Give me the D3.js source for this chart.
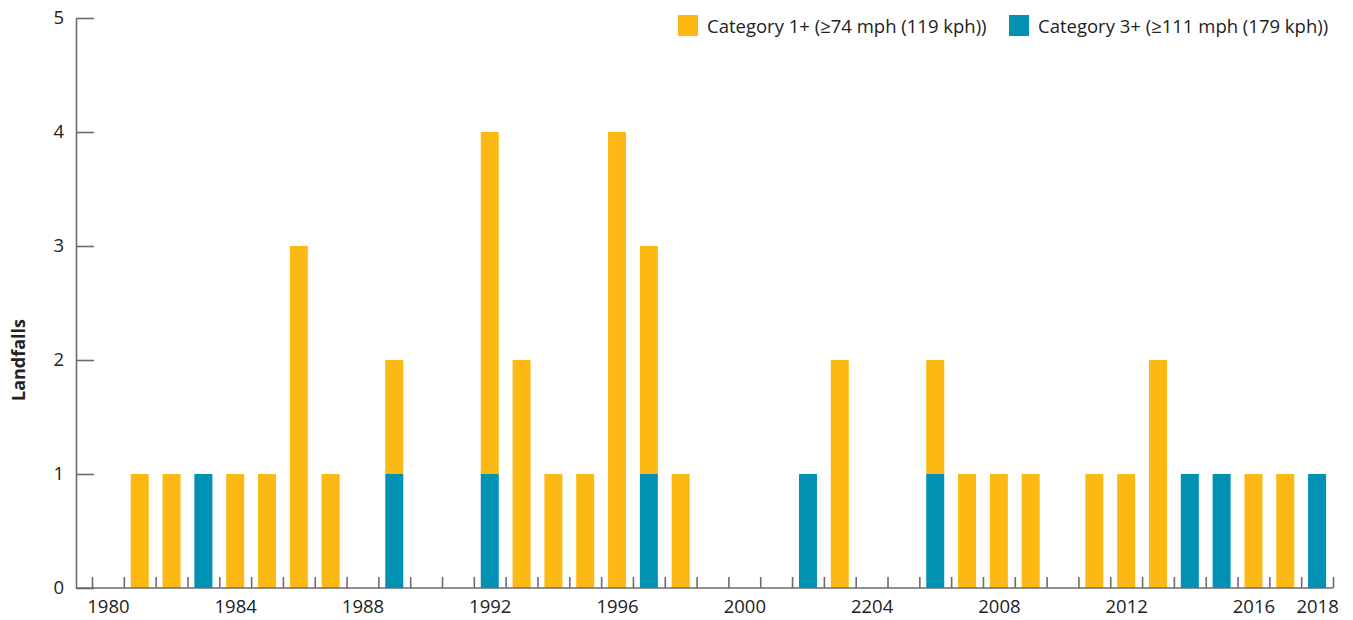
<!DOCTYPE html>
<html>
<head>
<meta charset="utf-8">
<script src="https://cdn.jsdelivr.net/npm/d3@7"></script>
<style>
  body { margin: 0; background: #fff; }
  svg text { font-family: "Open Sans", sans-serif; fill: #222; }
</style>
</head>
<body>
<script>
// data
var years = d3.range(1980, 2019);
// hurricanes that reached Cat 3+ (blue, bottom of stack)
var cat3 = [0,0,0,1,0,0,0,0,0,1, 0,0,1,0,0,0,0,1,0,0, 0,0,1,0,0,0,1,0,0,0, 0,0,0,0,1,1,0,0,1];
// remaining Cat 1+ landfalls (yellow, on top)
var cat1 = [0,1,1,0,1,1,3,1,0,1, 0,0,3,2,1,1,4,2,1,0, 0,0,0,2,0,0,1,1,1,1, 0,1,1,2,0,0,1,1,0];
var labelYears = [1980, 1984, 1988, 1992, 1996, 2000, 2004, 2008, 2012, 2016, 2018];
var labelText = ["1980", "1984", "1988", "1992", "1996", "2000", "2204", "2008", "2012", "2016", "2018"];
var yTicks = [0, 1, 2, 3, 4, 5];
var legendLabels = ["Category 1+ (\u226574 mph (119 kph))", "Category 3+ (\u2265111 mph (179 kph))"];
var colors = { cat1: "#fdb913", cat3: "#0091b3" };

var W = 1353, H = 620;
var mLeft = 76, mTop = 18, mBottom = 588;

var svg = d3.select("body").append("svg")
  .attr("width", W)
  .attr("height", H);

var rows = years.map(function (yr, i) {
  return { year: yr, cat3: cat3[i], cat1: cat1[i] };
});

// x: year centred in its slot, slots separated by ticks
var x = d3.scaleLinear()
  .domain([1979.5, 2018.5])
  .range([92, 1333]);

var y = d3.scaleLinear()
  .domain([0, 5])
  .range([mBottom, mTop]);

var stack = d3.stack().keys(["cat3", "cat1"]);
var series = stack(rows);

var barW = 18;

svg.append("g")
  .selectAll("g")
  .data(series)
  .enter()
  .append("g")
  .attr("fill", function (d) { return colors[d.key]; })
  .selectAll("rect")
  .data(function (d) { return d.filter(function (p) { return p[1] > p[0]; }); })
  .enter()
  .append("rect")
  .attr("x", function (d) { return x(d.data.year) - barW / 2; })
  .attr("y", function (d) { return y(d[1]); })
  .attr("width", barW)
  .attr("height", function (d) { return y(d[0]) - y(d[1]); });

// x axis: baseline + slot ticks pointing up
var xTickAxis = svg.append("g")
  .attr("transform", "translate(0," + mBottom + ")")
  .call(d3.axisBottom(x)
    .tickValues(d3.range(1979.5, 2019, 1))
    .tickSize(-11)
    .tickSizeOuter(0)
    .tickFormat(""));
xTickAxis.select(".domain").attr("d", "M" + mLeft + ",0H" + x(2018.5));

var xLabelAxis = svg.append("g")
  .attr("transform", "translate(0," + mBottom + ")")
  .call(d3.axisBottom(x)
    .tickValues(labelYears)
    .tickSize(0)
    .tickPadding(12)
    .tickFormat(function (d, i) { return labelText[i]; }));
xLabelAxis.select(".domain").remove();

// y axis with inward ticks
var yAxis = svg.append("g")
  .attr("transform", "translate(" + mLeft + ",0)")
  .call(d3.axisRight(y)
    .tickValues(yTicks)
    .tickSize(18)
    .tickSizeOuter(0)
    .tickFormat(d3.format("d")));
yAxis.selectAll(".tick text")
  .attr("x", -12)
  .attr("text-anchor", "end");

svg.selectAll(".domain, .tick line")
  .attr("stroke", "#6b6b6b")
  .attr("stroke-width", 1.6);
svg.selectAll(".tick text")
  .attr("font-family", "Open Sans, sans-serif")
  .attr("font-size", 18.5)
  .attr("fill", "#222");

// y label
svg.append("text")
  .attr("transform", "translate(25,360) rotate(-90)")
  .attr("text-anchor", "middle")
  .attr("font-size", 18)
  .attr("font-weight", "bold")
  .text("Landfalls");

// legend
var legend = svg.append("g");
var lx = [678, 1009];
var lcol = [colors.cat1, colors.cat3];
legendLabels.forEach(function (t, i) {
  legend.append("rect")
    .attr("x", lx[i]).attr("y", 15)
    .attr("width", 20).attr("height", 21)
    .attr("fill", lcol[i]);
  legend.append("text")
    .attr("x", lx[i] + 29).attr("y", 33)
    .attr("font-size", 18.5)
    .text(t);
});
</script>
</body>
</html>
